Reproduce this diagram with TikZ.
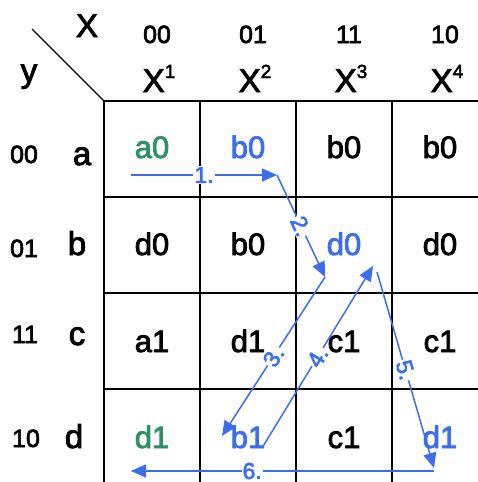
\documentclass[tikz,border=0pt]{standalone}
\usepackage{fontspec}
\setmainfont{Liberation Sans}[FakeBold=2.6]
\usepackage{xcolor}
\usetikzlibrary{arrows.meta}
\definecolor{kmBlue}{HTML}{3A6DF0}
\definecolor{kmGreen}{HTML}{2F9064}
\newcommand{\Xsup}[1]{X\raisebox{14pt}{\fontsize{19}{19}\selectfont #1}}
\tikzset{
  grid/.style={line width=1.8pt},
  cell/.style={anchor=base, inner sep=0pt, font=\fontsize{31}{31}\selectfont},
  code/.style={anchor=base, inner sep=0pt, font=\fontsize{25}{25}\selectfont},
  head/.style={anchor=base, inner sep=0pt, font=\fontsize{33}{33}\selectfont},
  move/.style={kmBlue, line width=1.5pt, -{Triangle[length=15pt,width=13pt]}},
  movelabel/.style={fill=white, inner sep=1pt, text=kmBlue, font=\fontsize{23}{23}\selectfont},
}

\begin{document}
\begin{tikzpicture}[x=1pt, y=-1pt]
\useasboundingbox (0,0) rectangle (478,482);
% table lines
\begin{scope}
\clip (0,0) rectangle (478,482);
\draw[grid] (104,101) rectangle (488,485);
\foreach \gx in {200,296,392} \draw[grid] (\gx,101) -- (\gx,485);
\foreach \gy in {197,293,389} \draw[grid] (104,\gy) -- (488,\gy);
\end{scope}
\draw[line width=1.2pt] (32,29) -- (104,101);
% headers
\node[head] (xhead) at (87,37) {X};
\node[head] (yhead) at (29,82) {y};
\node[code] (xc1) at (157,43) {00};
\node[code] (xc2) at (253,43) {01};
\node[code] (xc3) at (349,43) {11};
\node[code] (xc4) at (445,43) {10};
\node[head] (xv1) at (159,92) {\Xsup{1}};
\node[head] (xv2) at (255,92) {\Xsup{2}};
\node[head] (xv3) at (351,92) {\Xsup{3}};
\node[head] (xv4) at (447,92) {\Xsup{4}};
\node[code] (yc1) at (24,163) {00};
\node[code] (yc2) at (24,257) {01};
\node[code] (yc3) at (25,343) {11};
\node[code] (yc4) at (26,447) {10};
\node[head] (ya) at (82,165) {a};
\node[head] (yb) at (77,255) {b};
\node[head] (yc) at (77,345) {c};
\node[head] (yd) at (74,448) {d};
% cells
\node[cell, kmGreen] (a1) at (152,158) {a0};
\node[cell, kmBlue] (a2) at (248,158) {b0};
\node[cell] (a3) at (344,158) {b0};
\node[cell] (a4) at (440,158) {b0};
\node[cell] (b1) at (152,255) {d0};
\node[cell] (b2) at (248,255) {b0};
\node[cell, kmBlue] (b3) at (344,255) {d0};
\node[cell] (b4) at (440,255) {d0};
\node[cell] (c1) at (152,352) {a1};
\node[cell] (c2) at (248,352) {d1};
\node[cell] (c3) at (344,352) {c1};
\node[cell] (c4) at (440,352) {c1};
\node[cell, kmGreen] (d1) at (152,448) {d1};
\node[cell, kmBlue] (d2) at (248,448) {b1};
\node[cell] (d3) at (344,448) {c1};
\node[cell, kmBlue] (d4) at (440,448) {d1};
% transitions
\coordinate (m0) at (131,175);
\coordinate (m1) at (277,175);
\coordinate (m2) at (325,277);
\coordinate (m3) at (222,436);
\coordinate (m4) at (262,448);
\coordinate (m5) at (373,266);
\coordinate (m6) at (377,272);
\coordinate (m7) at (434,468);
\coordinate (m8) at (434,471);
\coordinate (m9) at (131,471);
\draw[move] (m0) -- node[movelabel] (l1) {1.} (m1);
\draw[move] (m1) -- node[movelabel, sloped] (l2) {2.} (m2);
\draw[move] (m2) -- node[movelabel, sloped] (l3) {3.} (m3);
\draw[move] (m4) -- node[movelabel, sloped] (l4) {4.} (m5);
\draw[move] (m6) -- node[movelabel, sloped] (l5) {5.} (m7);
\draw[move] (m8) -- node[movelabel, pos=0.6] (l6) {6.} (m9);
\end{tikzpicture}
\end{document}
